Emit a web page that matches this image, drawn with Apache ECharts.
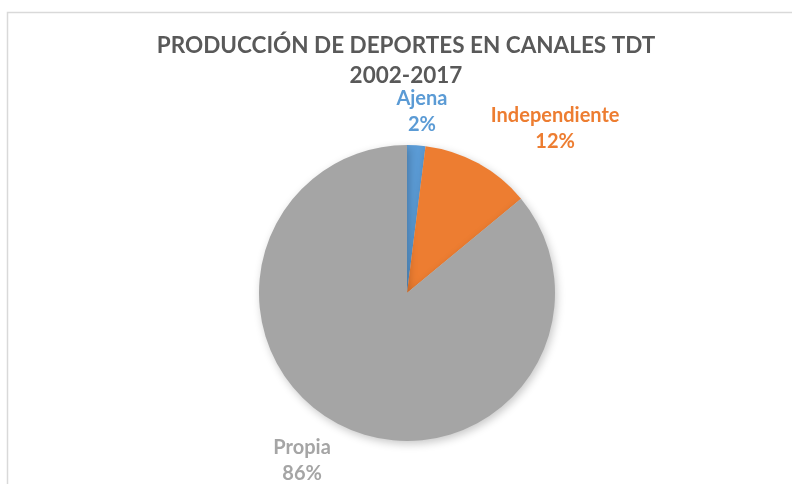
<!DOCTYPE html>
<html>
<head>
<meta charset="utf-8">
<script src="https://cdn.jsdelivr.net/npm/echarts@6/dist/echarts.min.js"></script>
<style>
  html, body { margin: 0; padding: 0; background: #ffffff; }
  #chart { width: 792px; height: 484px; }
</style>
</head>
<body>
<div id="chart"></div>
<script>
// Sports production in DTT channels, share by origin
const titleLines = ['PRODUCCIÓN DE DEPORTES EN CANALES TDT', '2002-2017'];
const categories = ['Ajena', 'Independiente', 'Propia'];
const shares = [2, 12, 86];

const sliceColors = ['#5B9BD5', '#ED7D31', '#A5A5A5'];
// label placement around the pie: angle (deg, clockwise from 12 o'clock) and distance from centre
const labelAngle = [4.7, 42.1, 212.0];
const labelDist = [182, 221, 198];

const FONT = "Lato, 'Open Sans', sans-serif";
const CX = 407, CY = 293, R = 148;

const chart = echarts.init(document.getElementById('chart'), null, { renderer: 'canvas' });

chart.setOption({
  backgroundColor: '#ffffff',
  animation: false,
  title: {
    text: titleLines.join('\n'),
    left: 406,
    textAlign: 'center',
    top: 31,
    padding: 0,
    textStyle: {
      fontFamily: FONT,
      fontSize: 22.5,
      fontWeight: 'bold',
      lineHeight: 30,
      color: '#595959'
    }
  },
  graphic: [{
    type: 'polyline',
    silent: true,
    shape: { points: [[7.5, 484], [7.5, 12.5], [792, 12.5]] },
    style: { stroke: '#d9d9d9', lineWidth: 1.5, fill: null }
  }],
  series: [{
    type: 'pie',
    center: [CX, CY],
    radius: R,
    startAngle: 90,
    clockwise: true,
    avoidLabelOverlap: false,
    data: categories.map((name, i) => ({
      name: name,
      value: shares[i],
      itemStyle: { color: sliceColors[i] },
      label: { color: sliceColors[i] }
    })),
    itemStyle: {
      borderWidth: 0,
      shadowBlur: 8,
      shadowOffsetX: 2,
      shadowOffsetY: 3,
      shadowColor: 'rgba(0,0,0,0.22)'
    },
    label: {
      show: true,
      position: 'outside',
      formatter: '{b}\n{d}%',
      fontFamily: FONT,
      fontSize: 20,
      fontWeight: 'bold',
      lineHeight: 26,
      align: 'center'
    },
    labelLine: { show: false },
    labelLayout: function (p) {
      const a = labelAngle[p.dataIndex] * Math.PI / 180;
      const d = labelDist[p.dataIndex];
      return {
        x: CX + d * Math.sin(a),
        y: CY - d * Math.cos(a),
        align: 'center',
        verticalAlign: 'middle'
      };
    }
  }]
});
</script>
</body>
</html>
